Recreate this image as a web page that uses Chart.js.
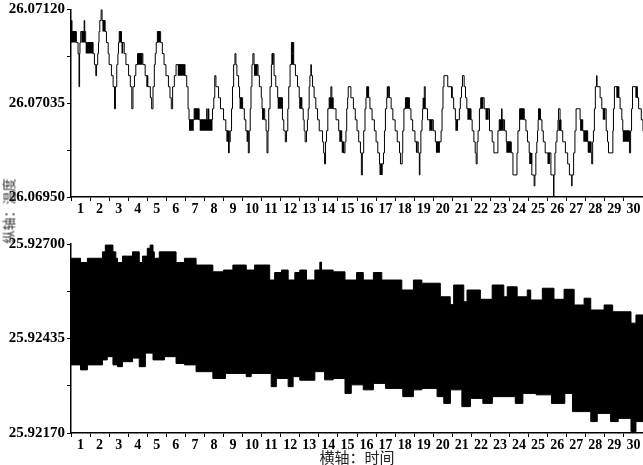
<!DOCTYPE html>
<html>
<head>
<meta charset="utf-8">
<script src="https://cdn.jsdelivr.net/npm/chart.js@4.4.0/dist/chart.umd.min.js"></script>
<style>
  body { margin: 0; background: #fff; overflow: hidden; }
  #wrap { position: relative; width: 643px; height: 465px; overflow: hidden; }
  .panel { position: absolute; left: 0; }
  #ytitle {
    position: absolute; left: 8px; top: 211px;
    transform: translate(-50%, -50%) rotate(-90deg);
    font: 13px "Noto Sans CJK SC"; color: #333; white-space: nowrap;
  }
</style>
</head>
<body>
<div id="wrap">
  <canvas id="topChart" class="panel" style="top:0" width="643" height="222"></canvas>
  <canvas id="bottomChart" class="panel" style="top:222px" width="643" height="244"></canvas>
  <div id="ytitle">纵轴：温度</div>
</div>
<script>
// x axis: days 1..30, tick marks on day edges
const dayEdges = [0,1,2,3,4,5,6,7,8,9,10,11,12,13,14,15,16,17,18,19,20,21,22,23,24,25,26,27,28,29,30];
const dayLabels = ['1','2','3','4','5','6','7','8','9','10','11','12','13','14','15','16','17','18','19','20','21','22','23','24','25','26','27','28','29','30'];

const topTicks = [26.0695, 26.069925, 26.07035, 26.070775, 26.0712];
const bottomTicks = [25.9217, 25.923025, 25.92435, 25.925675, 25.927];

// top panel: step trace [day, value]
const topTrace = [
  [0,26.0710],[0.03,26.0711],[0.05,26.0710],[0.28,26.0709],[0.37,26.0708],[0.42,26.0705],[0.45,26.0708],[0.47,26.0709],
  [0.51,26.0710],[0.69,26.0711],[0.72,26.0710],[0.77,26.0709],[1.16,26.0708],[1.23,26.0707],[1.30,26.0706],[1.34,26.0707],
  [1.40,26.0708],[1.44,26.0709],[1.47,26.0710],[1.51,26.0711],[1.58,26.0712],[1.63,26.0711],[1.79,26.0710],[1.86,26.0709],
  [1.95,26.0708],[2.00,26.0707],[2.12,26.0706],[2.21,26.0705],[2.28,26.0703],[2.33,26.0705],[2.40,26.0707],[2.46,26.0708],
  [2.49,26.0709],[2.53,26.0710],[2.65,26.0709],[2.79,26.0708],[2.88,26.0707],[3.02,26.0706],[3.11,26.0705],[3.19,26.0703],
  [3.25,26.0705],[3.33,26.0706],[3.40,26.0707],[3.49,26.0708],[3.77,26.0707],[3.89,26.0706],[4.02,26.0705],[4.16,26.0704],
  [4.23,26.0703],[4.30,26.0705],[4.37,26.0707],[4.42,26.0708],[4.47,26.0709],[4.53,26.0710],[4.70,26.0709],[4.79,26.0708],
  [4.88,26.0707],[4.98,26.0706],[5.11,26.0705],[5.19,26.0704],[5.26,26.0703],[5.33,26.0705],[5.42,26.0706],[5.51,26.0707],
  [5.98,26.0706],[6.07,26.0705],[6.14,26.0703],[6.19,26.0702],[6.46,26.0703],[6.72,26.0702],[7.12,26.0703],[7.14,26.0702],
  [7.21,26.0703],[7.23,26.0702],[7.42,26.0703],[7.49,26.0704],[7.54,26.0706],[7.60,26.0705],[7.74,26.0704],[7.84,26.0703],
  [8.00,26.0702],[8.12,26.0701],[8.26,26.0699],[8.30,26.0700],[8.35,26.0701],[8.42,26.0703],[8.47,26.0705],[8.53,26.0707],
  [8.60,26.0708],[8.65,26.0707],[8.70,26.0706],[8.79,26.0705],[8.84,26.0704],[9.00,26.0703],[9.09,26.0702],[9.17,26.0701],
  [9.30,26.0699],[9.35,26.0701],[9.40,26.0703],[9.44,26.0705],[9.49,26.0707],[9.54,26.0708],[9.60,26.0707],[9.81,26.0706],
  [9.88,26.0705],[9.98,26.0704],[10.02,26.0703],[10.16,26.0702],[10.23,26.0701],[10.28,26.0699],[10.33,26.0701],[10.37,26.0703],
  [10.44,26.0705],[10.51,26.0707],[10.54,26.0708],[10.65,26.0706],[10.74,26.0705],[10.84,26.0704],[11.09,26.0702],[11.16,26.0701],
  [11.24,26.0700],[11.30,26.0701],[11.37,26.0703],[11.42,26.0705],[11.49,26.0707],[11.56,26.0709],[11.68,26.0707],[11.77,26.0706],
  [11.88,26.0705],[11.97,26.0704],[12.11,26.0703],[12.18,26.0702],[12.23,26.0701],[12.28,26.0700],[12.35,26.0701],[12.40,26.0702],
  [12.44,26.0703],[12.49,26.0705],[12.53,26.0706],[12.58,26.0707],[12.61,26.0706],[12.67,26.0705],[12.75,26.0704],[12.84,26.0703],
  [12.93,26.0702],[13.02,26.0701],[13.19,26.0700],[13.25,26.0699],[13.30,26.0698],[13.35,26.0700],[13.40,26.0701],[13.47,26.0703],
  [13.54,26.0704],[13.63,26.0705],[13.68,26.0704],[13.75,26.0703],[13.90,26.0702],[14.04,26.0701],[14.20,26.0700],[14.30,26.0699],
  [14.37,26.0700],[14.42,26.0701],[14.46,26.0703],[14.51,26.0704],[14.54,26.0705],[14.68,26.0704],[14.81,26.0703],[14.91,26.0702],
  [15.00,26.0701],[15.09,26.0700],[15.18,26.0699],[15.23,26.0697],[15.28,26.0699],[15.35,26.0701],[15.42,26.0703],[15.47,26.0704],
  [15.51,26.0705],[15.61,26.0704],[15.68,26.0703],[15.79,26.0702],[15.91,26.0701],[16.00,26.0700],[16.09,26.0699],[16.18,26.0698],
  [16.39,26.0699],[16.44,26.0701],[16.49,26.0703],[16.56,26.0704],[16.61,26.0705],[16.70,26.0704],[16.79,26.0703],[16.88,26.0702],
  [17.00,26.0701],[17.11,26.0700],[17.23,26.0699],[17.28,26.0698],[17.37,26.0699],[17.40,26.0701],[17.46,26.0703],[17.54,26.0704],
  [17.75,26.0703],[17.83,26.0702],[17.92,26.0701],[18.04,26.0700],[18.21,26.0699],[18.27,26.0697],[18.30,26.0699],[18.35,26.0701],
  [18.41,26.0702],[18.44,26.0703],[18.53,26.0705],[18.58,26.0703],[18.70,26.0702],[19.00,26.0701],[19.11,26.0700],[19.41,26.0701],
  [19.46,26.0703],[19.51,26.0705],[19.56,26.0706],[19.76,26.0705],[19.98,26.0704],[20.07,26.0703],[20.16,26.0702],[20.37,26.0703],
  [20.42,26.0704],[20.48,26.0705],[20.53,26.0706],[20.62,26.0705],[20.69,26.0704],[20.76,26.0703],[20.98,26.0702],[21.04,26.0701],
  [21.13,26.0700],[21.20,26.0699],[21.25,26.0698],[21.30,26.0700],[21.35,26.0701],[21.42,26.0703],[21.49,26.0704],[21.67,26.0703],
  [21.95,26.0701],[22.09,26.0700],[22.18,26.0699],[22.39,26.0701],[22.46,26.0702],[22.58,26.0703],[22.61,26.0702],[22.74,26.0701],
  [22.83,26.0700],[23.09,26.0699],[23.18,26.0697],[23.39,26.0699],[23.44,26.0701],[23.53,26.0703],[23.77,26.0702],[23.86,26.0701],
  [23.94,26.0700],[24.03,26.0699],[24.12,26.0698],[24.17,26.0697],[24.29,26.0696],[24.33,26.0697],[24.38,26.0699],[24.43,26.0700],
  [24.47,26.0701],[24.50,26.0702],[24.53,26.0703],[24.60,26.0702],[24.70,26.0701],[24.77,26.0700],[24.87,26.0699],[25.17,26.0697],
  [25.31,26.0695],[25.33,26.0697],[25.38,26.0699],[25.43,26.0700],[25.49,26.0701],[25.54,26.0702],[25.57,26.0703],[25.65,26.0702],
  [25.70,26.0701],[25.79,26.0700],[25.93,26.0699],[26.05,26.0698],[26.14,26.0697],[26.26,26.0696],[26.28,26.0697],[26.36,26.0699],
  [26.43,26.0701],[26.49,26.0703],[26.70,26.0702],[26.84,26.0701],[27.10,26.0700],[27.28,26.0699],[27.31,26.0698],[27.36,26.0700],
  [27.40,26.0701],[27.45,26.0703],[27.50,26.0705],[27.56,26.0706],[27.59,26.0705],[27.75,26.0704],[27.84,26.0703],[28.07,26.0701],
  [28.14,26.0700],[28.19,26.0699],[28.42,26.0701],[28.45,26.0703],[28.50,26.0705],[28.73,26.0704],[28.80,26.0703],[28.89,26.0702],
  [28.94,26.0701],[29.29,26.0699],[29.35,26.0701],[29.40,26.0703],[29.45,26.0705],[29.70,26.0704],[29.77,26.0703],[29.91,26.0702],
  [30.00,26.0701]
];

// top panel: spans where the reading flickers between two levels [start, end, upper level]
const topBlocks = [
  [0.00,0.28,26.0710],[0.54,0.74,26.0710],[0.77,1.16,26.0709],[1.65,1.79,26.0711],[2.53,2.65,26.0710],[2.65,2.74,26.0709],
  [3.49,3.75,26.0708],[3.95,4.05,26.0706],[4.53,4.67,26.0710],[5.60,5.98,26.0707],
  [6.19,6.44,26.0702],[6.46,6.72,26.0703],[6.75,7.42,26.0702],[8.15,8.33,26.0701],[8.84,8.98,26.0704],[9.21,9.30,26.0701],
  [9.60,9.79,26.0707],[10.02,10.14,26.0703],[10.54,10.63,26.0708],[10.84,11.07,26.0704],[11.56,11.68,26.0709],[11.56,11.68,26.0708],
  [11.97,12.11,26.0704],[13.54,13.75,26.0704],[14.07,14.20,26.0701],[14.20,14.33,26.0700],[15.51,15.61,26.0705],[16.18,16.35,26.0698],
  [16.56,16.67,26.0705],[17.54,17.75,26.0704],[18.09,18.18,26.0700],[18.44,18.58,26.0704],[18.79,18.97,26.0702],[19.14,19.35,26.0700],
  [19.93,20.02,26.0705],[20.16,20.30,26.0702],[20.79,20.98,26.0703],[21.49,21.63,26.0704],[21.74,21.91,26.0703],[22.46,22.70,26.0702],
  [22.83,23.09,26.0700],[23.53,23.77,26.0703],[24.03,24.20,26.0699],[24.50,24.65,26.0703],[24.99,25.12,26.0699],[25.57,25.70,26.0702],
  [26.70,26.84,26.0702],[26.87,27.10,26.0701],[27.10,27.28,26.0700],[27.89,28.03,26.0703],[28.60,28.75,26.0705],[28.94,29.29,26.0701],
  [29.60,29.72,26.0705]
];

// bottom panel: envelope of the fast oscillation [day, value]
const bandUpper = [
  [0,25.92660],[0.5,25.92648],[0.86,25.92660],[1.65,25.92678],[1.8,25.92697],[2.2,25.92678],[2.35,25.92660],[2.44,25.92648],
  [2.7,25.92666],[3.23,25.92678],[3.58,25.92648],[3.75,25.92666],[4.0,25.92688],[4.15,25.92697],[4.3,25.92678],[4.37,25.92660],
  [4.63,25.92678],[5.51,25.92648],[5.95,25.92660],[6.56,25.92641],[7.44,25.92622],[8.0,25.92627],[8.49,25.92641],[9.19,25.92627],
  [9.63,25.92641],[10.42,25.92599],[10.68,25.92620],[11.04,25.92627],[11.39,25.92599],[11.74,25.92620],[12.0,25.92627],[12.35,25.92599],
  [12.79,25.92627],[13.05,25.92649],[13.14,25.92627],[13.75,25.92622],[14.37,25.92599],[14.98,25.92620],[15.33,25.92599],[15.86,25.92620],
  [16.3,25.92599],[17.35,25.92571],[17.96,25.92599],[18.4,25.92590],[19.37,25.92552],[19.89,25.92530],[20.07,25.92585],[20.6,25.92538],
  [20.77,25.92571],[21.47,25.92545],[22.09,25.92585],[22.7,25.92552],[22.88,25.92580],[23.4,25.92552],[23.93,25.92571],[24.11,25.92543],
  [24.72,25.92576],[25.33,25.92545],[25.86,25.92573],[26.39,25.92529],[26.91,25.92548],[27.26,25.92515],[27.96,25.92529],[28.41,25.92510],
  [29.37,25.92478],[29.63,25.92501],[30,25.92501]
];
const bandLower = [
  [0,25.92361],[0.5,25.92347],[0.86,25.92361],[1.65,25.92375],[1.9,25.92384],[2.2,25.92361],[2.44,25.92356],[2.7,25.92370],
  [3.23,25.92380],[3.58,25.92356],[3.9,25.92394],[4.3,25.92375],[4.9,25.92384],[5.51,25.92365],[5.95,25.92361],[6.56,25.92342],
  [7.44,25.92323],[8.1,25.92337],[9.19,25.92328],[9.45,25.92337],[10.5,25.92300],[10.77,25.92323],[11.39,25.92300],[11.65,25.92328],
  [12.0,25.92318],[12.79,25.92342],[13.3,25.92319],[13.75,25.92323],[14.37,25.92281],[14.7,25.92305],[15.33,25.92291],[15.86,25.92309],
  [16.5,25.92295],[17.4,25.92272],[17.96,25.92291],[18.4,25.92295],[19.2,25.92272],[19.55,25.92253],[19.9,25.92291],[20.5,25.92244],
  [20.95,25.92267],[21.6,25.92253],[22.1,25.92272],[23.3,25.92253],[23.7,25.92281],[24.4,25.92277],[25.2,25.92253],[25.9,25.92281],
  [26.3,25.92230],[27.26,25.92202],[27.6,25.92225],[28.3,25.92202],[28.7,25.92211],[29.37,25.92174],[29.63,25.92202],[30,25.92202]
];

const xFont = { family: 'Liberation Serif', weight: 'bold', size: 14 };
const yFont = { family: 'Liberation Serif', weight: 'bold', size: 15, lineHeight: 1 };
const toPoints = (pairs) => pairs.map(([x, y]) => ({ x, y }));

function xAxis(height, withTitle) {
  return {
    type: 'linear', min: 0, max: 30,
    afterBuildTicks: (s) => { s.ticks = dayEdges.map((v) => ({ value: v })); },
    afterFit: (s) => { s.height = height; },
    ticks: {
      autoSkip: false, maxRotation: 0, labelOffset: 9.5, padding: 0,
      color: '#000', font: xFont,
      callback: (v, i) => dayLabels[i] || ''
    },
    grid: { drawOnChartArea: false, tickLength: 4, color: '#000' },
    border: { color: '#000', width: 1.5 },
    title: {
      display: withTitle, text: '横轴：时间', color: '#222', padding: 0,
      font: { family: 'Noto Sans CJK SC', size: 15, lineHeight: 1.1 }
    }
  };
}

function yAxis(min, max, tickValues) {
  return {
    min, max,
    afterBuildTicks: (s) => { s.ticks = tickValues.map((v) => ({ value: v })); },
    afterFit: (s) => { s.width = 71; },
    ticks: {
      color: '#000', font: yFont, padding: 2,
      callback: (v, i) => (i % 2 ? '' : Number(v).toFixed(5))
    },
    grid: { drawOnChartArea: false, tickLength: 4, color: '#000' },
    border: { color: '#000', width: 1.5 }
  };
}

const blockPoints = [];
topBlocks.forEach(([s, e, v]) => {
  const mid = v - 0.00005;
  blockPoints.push({ x: s, y: mid }, { x: e, y: mid }, { x: e, y: null });
});

new Chart(document.getElementById('topChart'), {
  type: 'line',
  data: {
    datasets: [{
      data: toPoints(topTrace),
      stepped: true, borderColor: '#000', borderWidth: 1,
      pointRadius: 0, fill: false
    }, {
      data: blockPoints,
      borderColor: '#000', borderWidth: 11, borderCapStyle: 'butt',
      pointRadius: 0, fill: false, spanGaps: false
    }]
  },
  options: {
    responsive: false, animation: false, devicePixelRatio: 1,
    layout: { padding: { top: 7, left: 0, right: 0, bottom: 0 } },
    plugins: { legend: { display: false }, tooltip: { enabled: false } },
    scales: {
      x: xAxis(25, false),
      y: yAxis(26.0695, 26.0712, topTicks)
    }
  }
});

new Chart(document.getElementById('bottomChart'), {
  type: 'line',
  data: {
    datasets: [{
      data: toPoints(bandUpper),
      stepped: true, borderColor: '#000', borderWidth: 1,
      backgroundColor: '#000', pointRadius: 0, fill: '+1'
    }, {
      data: toPoints(bandLower),
      stepped: true, borderColor: '#000', borderWidth: 1,
      pointRadius: 0, fill: false
    }]
  },
  options: {
    responsive: false, animation: false, devicePixelRatio: 1,
    layout: { padding: { top: 22, left: 0, right: 0, bottom: 0 } },
    plugins: { legend: { display: false }, tooltip: { enabled: false } },
    scales: {
      x: xAxis(33, true),
      y: yAxis(25.9217, 25.927, bottomTicks)
    }
  }
});
</script>
</body>
</html>
